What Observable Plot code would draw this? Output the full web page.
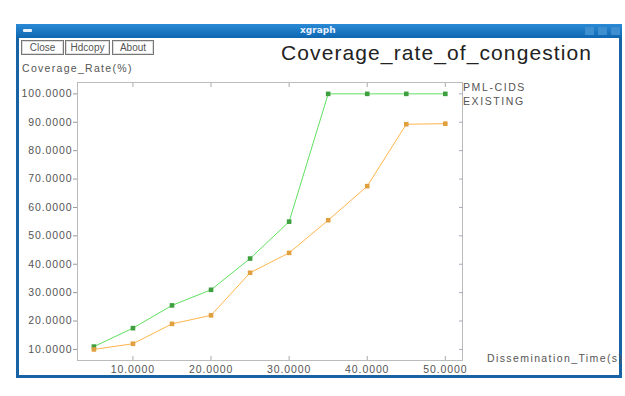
<!DOCTYPE html>
<html>
<head>
<meta charset="utf-8">
<script src="https://cdn.jsdelivr.net/npm/d3@7"></script>
<script src="https://cdn.jsdelivr.net/npm/@observablehq/plot@0.6"></script>
<style>
  html, body { margin: 0; padding: 0; background: #fff; width: 625px; height: 396px; overflow: hidden; font-family: "Liberation Sans", Arial, sans-serif; }
  #win { position: absolute; left: 16px; top: 24px; width: 600px; height: 351px; border: 3px solid #1763a6; border-top: none; background: #fff; }
  #bar { position: absolute; left: 16px; top: 24px; width: 606px; height: 14px; background: linear-gradient(#2a8ad6, #0e66b0); }
  #bar .t { position: absolute; left: 284px; top: 1px; color: #e6f0ff; font: bold 9px "DejaVu Sans", sans-serif; }
  #bar .m { position: absolute; left: 7px; top: 5px; width: 9px; height: 3px; background: #e6f0ff; border-radius: 1px; }
  #bar .c { position: absolute; top: 3px; width: 9px; height: 8px; background: #3d8fd0; }
  .btn { position: absolute; top: 40px; height: 13px; border: 1px solid #777; background: #fff; color: #555; font: 10px "Liberation Sans", sans-serif; line-height: 13px; text-align: center; box-shadow: inset 0 0 0 1px #ddd; }
  .lbl { position: absolute; color: #555; font-family: "Liberation Sans", sans-serif; white-space: nowrap; }
  #plot { position: absolute; left: 0; top: 0; }
</style>
</head>
<body>
<div id="win"></div>
<div id="bar"><div class="m"></div><div class="t">xgraph</div>
  <div class="c" style="left:569px"></div><div class="c" style="left:582px"></div><div class="c" style="left:595px"></div></div>
<div class="btn" style="left:21px;width:41px">Close</div>
<div class="btn" style="left:65px;width:43px">Hdcopy</div>
<div class="btn" style="left:112px;width:40px">About</div>
<div class="lbl" style="left:281px;top:41px;font-size:21px;letter-spacing:1.1px;color:#222">Coverage_rate_of_congestion</div>
<div class="lbl" style="left:22px;top:62px;font-size:10.5px;letter-spacing:1.3px">Coverage_Rate(%)</div>
<div class="lbl" style="left:463px;top:81px;font-size:10.5px;letter-spacing:1.6px">PML-CIDS</div>
<div class="lbl" style="left:463px;top:95px;font-size:10.5px;letter-spacing:1.6px">EXISTING</div>
<div class="lbl" style="left:487px;top:352px;font-size:10.5px;letter-spacing:1.4px">Dissemination_Time(s)</div>
<div id="plot"></div>
<script>
const times = [5, 10, 15, 20, 25, 30, 35, 40, 45, 50];
const pmlCids = [11, 17.5, 25.5, 31, 42, 55, 100, 100, 100, 100];
const existing = [10, 12, 19, 22, 37, 44, 55.5, 67.5, 89.3, 89.5];
const xTicks = [10, 20, 30, 40, 50];
const yTicks = [10, 20, 30, 40, 50, 60, 70, 80, 90, 100];
const seriesNames = ["PML-CIDS", "EXISTING"];

const rows = [];
times.forEach((t, i) => {
  rows.push({t, v: pmlCids[i], s: seriesNames[0]});
  rows.push({t, v: existing[i], s: seriesNames[1]});
});
const lineColor = {"PML-CIDS": "#5fe05f", "EXISTING": "#ffb54d"};
const dotColor = {"PML-CIDS": "#3f9f3f", "EXISTING": "#e0a040"};
const fmt = d3.format(".4f");

const chart = Plot.plot({
  width: 625, height: 396,
  marginLeft: 77, marginRight: 163, marginTop: 82, marginBottom: 36,
  style: {background: "transparent", color: "#555", fontFamily: "Liberation Sans, sans-serif", fontSize: "10.5px", letterSpacing: "0.9px"},
  x: {domain: [2.9, 52.2]},
  y: {domain: [6.1, 104]},
  marks: [
    Plot.frame({stroke: "#bbb"}),
    Plot.axisY({ticks: yTicks, tickFormat: fmt, tickSize: 4, tickPadding: 1, label: null, stroke: "#999"}),
    Plot.axisY({anchor: "right", ticks: yTicks, tickFormat: () => "", tickSize: -4, label: null, stroke: "#aab"}),
    Plot.axisX({ticks: xTicks, tickFormat: fmt, tickSize: -4, tickPadding: 9, label: null, stroke: "#aaa"}),
    Plot.axisX({anchor: "top", ticks: xTicks, tickFormat: () => "", tickSize: -4, label: null, stroke: "#aaa"}),
    Plot.line(rows, {x: "t", y: "v", z: "s", stroke: d => lineColor[d.s], strokeWidth: 1}),
    Plot.dot(rows, {x: "t", y: "v", symbol: "square", r: 2.6, fill: d => dotColor[d.s], stroke: "none"})
  ]
});
document.getElementById("plot").appendChild(chart);
</script>
</body>
</html>
